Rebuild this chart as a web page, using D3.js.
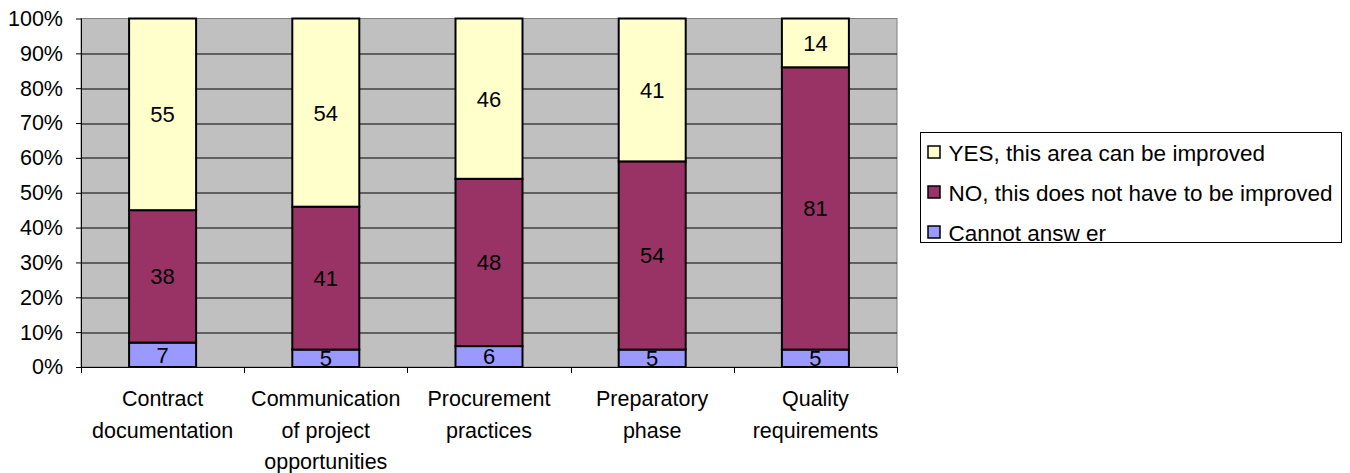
<!DOCTYPE html>
<html>
<head>
<meta charset="utf-8">
<script src="https://cdn.jsdelivr.net/npm/d3@7.9.0/dist/d3.min.js"></script>
<style>
  body { margin: 0; background: #fff; }
  svg { display: block; font-family: "Liberation Sans", Arial, sans-serif; }
</style>
</head>
<body>
<svg id="chart" width="1350" height="473"></svg>
<script>
// categories, each as lines of the axis label
const categories = [
    ["Contract", "documentation"],
    ["Communication", "of project", "opportunities"],
    ["Procurement", "practices"],
    ["Preparatory", "phase"],
    ["Quality", "requirements"]
];
const seriesNames = ["Cannot answ er", "NO, this does not have to be improved", "YES, this area can be improved"];
const cannotAnswer = [7, 5, 6, 5, 5];
const noValues     = [38, 41, 48, 54, 81];
const yesValues    = [55, 54, 46, 41, 14];
const yTicks = [0, 10, 20, 30, 40, 50, 60, 70, 80, 90, 100];

const colors = ["#9999FF", "#993366", "#FFFFCC"];

const svg = d3.select("#chart");
const margin = { top: 18.5, right: 453, bottom: 106, left: 81 };
const width  = +svg.attr("width")  - margin.left - margin.right;
const height = +svg.attr("height") - margin.top  - margin.bottom;

const g = svg.append("g")
    .attr("transform", `translate(${margin.left},${margin.top})`);

const rows = categories.map((c, i) => ({
    idx: i,
    c: cannotAnswer[i],
    n: noValues[i],
    y: yesValues[i]
}));

const stack = d3.stack().keys(["c", "n", "y"])
    .offset(d3.stackOffsetExpand);
const layers = stack(rows);

const xScale = d3.scaleBand().domain(d3.range(categories.length)).range([0, width]).padding(0);
const yScale = d3.scaleLinear().domain([0, 1]).range([height, 0]);

// plot background
g.append("rect")
    .attr("width", width).attr("height", height)
    .attr("fill", "#C0C0C0")
    .attr("stroke", "#808080")
    .attr("stroke-width", 1);

// gridlines
g.selectAll(".grid")
    .data(yTicks.slice(1, -1))
    .enter().append("line")
    .attr("x1", 0).attr("x2", width)
    .attr("y1", d => Math.round(yScale(d / 100)) + 0.5)
    .attr("y2", d => Math.round(yScale(d / 100)) + 0.5)
    .attr("stroke", "#000")
    .attr("stroke-width", 1);

// bars
const barW = 67;
layers.forEach((layer, li) => {
    g.selectAll(".bar" + li)
        .data(layer)
        .enter().append("rect")
        .attr("x", (d, i) => xScale(i) + xScale.bandwidth() / 2 - barW / 2)
        .attr("y", d => yScale(d[1]))
        .attr("width", barW)
        .attr("height", d => yScale(d[0]) - yScale(d[1]))
        .attr("fill", colors[li])
        .attr("stroke", "#000")
        .attr("stroke-width", 2);
});

// data labels
layers.forEach((layer, li) => {
    g.selectAll(".lbl" + li)
        .data(layer)
        .enter().append("text")
        .attr("x", (d, i) => xScale(i) + xScale.bandwidth() / 2)
        .attr("y", d => (yScale(d[0]) + yScale(d[1])) / 2)
        .attr("dy", "0.36em")
        .attr("text-anchor", "middle")
        .attr("font-size", 22)
        .attr("fill", "#000")
        .text(d => d.data[layer.key]);
});

// y axis
const yAxis = g.append("g")
    .call(d3.axisLeft(yScale)
        .tickValues(yTicks.map(t => t / 100))
        .tickFormat(d => Math.round(d * 100) + "%")
        .tickSize(5)
        .tickPadding(13));
yAxis.select(".domain").attr("stroke", "#000").attr("d", `M0.5,0V${height}`);
yAxis.selectAll("line").attr("stroke", "#000");
yAxis.selectAll("text").attr("font-size", 21.5).attr("font-family", "Liberation Sans, Arial, sans-serif").attr("fill", "#000");

// x axis: baseline with ticks at category boundaries
const xAxisG = g.append("g").attr("transform", `translate(0,${height})`);
xAxisG.append("line")
    .attr("x1", 0).attr("x2", width)
    .attr("y1", 0.5).attr("y2", 0.5)
    .attr("stroke", "#000");
xAxisG.selectAll(".xtick")
    .data(d3.range(categories.length + 1))
    .enter().append("line")
    .attr("x1", d => Math.round(d * xScale.step()) + 0.5)
    .attr("x2", d => Math.round(d * xScale.step()) + 0.5)
    .attr("y1", 0).attr("y2", 6)
    .attr("stroke", "#000");

// category labels
const catLabels = xAxisG.selectAll(".cat")
    .data(categories)
    .enter().append("text")
    .attr("text-anchor", "middle")
    .attr("font-size", 21.5)
    .attr("fill", "#000")
    .attr("transform", (d, i) => `translate(${xScale(i) + xScale.bandwidth() / 2},0)`);
catLabels.selectAll("tspan")
    .data(d => d)
    .enter().append("tspan")
    .attr("x", 0)
    .attr("y", (d, i) => 39 + i * 31.5)
    .text(d => d);

// legend
const legend = svg.append("g").attr("transform", "translate(920.5,132.5)");
legend.append("rect")
    .attr("width", 421).attr("height", 110)
    .attr("fill", "#fff")
    .attr("stroke", "#000");

const legendItems = [2, 1, 0];
legendItems.forEach((si, k) => {
    const cy = 20 + k * 40;
    legend.append("rect")
        .attr("x", 7.5).attr("y", cy - 6.5)
        .attr("width", 12).attr("height", 12)
        .attr("fill", colors[si])
        .attr("stroke", "#000")
        .attr("stroke-width", 1.5);
    legend.append("text")
        .attr("x", 28).attr("y", cy)
        .attr("dy", "0.36em")
        .attr("font-size", 22.5)
        .attr("fill", "#000")
        .text(seriesNames[si]);
});
</script>
</body>
</html>
